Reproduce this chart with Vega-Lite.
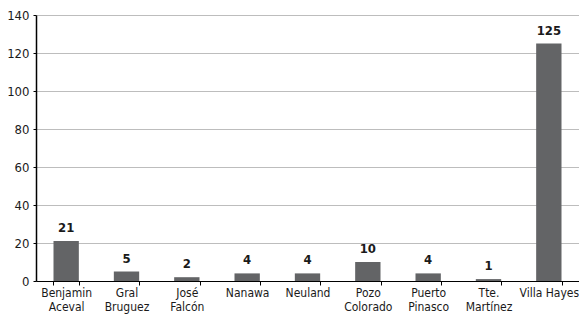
{
  "$schema": "https://vega.github.io/schema/vega-lite/v6.json",
  "autosize": "none",
  "width": 543,
  "height": 266,
  "padding": {"left": 36, "top": 15, "right": 0, "bottom": 41},
  "background": "white",
  "config": {
    "view": {"stroke": null},
    "font": "DejaVu Sans Condensed"
  },
  "data": {
    "values": [
      {"lugar": "Benjamin Aceval", "valor": 21},
      {"lugar": "Gral Bruguez", "valor": 5},
      {"lugar": "José Falcón", "valor": 2},
      {"lugar": "Nanawa", "valor": 4},
      {"lugar": "Neuland", "valor": 4},
      {"lugar": "Pozo Colorado", "valor": 10},
      {"lugar": "Puerto Pinasco", "valor": 4},
      {"lugar": "Tte. Martínez", "valor": 1},
      {"lugar": "Villa Hayes", "valor": 125}
    ]
  },
  "encoding": {
    "x": {
      "field": "lugar",
      "type": "nominal",
      "sort": null,
      "scale": {"paddingInner": 0.58, "paddingOuter": 0.29},
      "axis": {
        "title": null,
        "labelAngle": 0,
        "labelFont": "DejaVu Sans Condensed",
        "labelFontSize": 12,
        "labelColor": "#1a1a1a",
        "labelLineHeight": 14,
        "labelPadding": 2,
        "labelExpr": "!datum.value ? '' : (datum.value == 'Villa Hayes' ? datum.value : split(datum.value, ' '))",
        "domainColor": "#000",
        "domainWidth": 1,
        "tickColor": "#000",
        "tickSize": 4,
        "tickBand": "extent",
        "grid": false
      }
    },
    "y": {
      "field": "valor",
      "type": "quantitative",
      "scale": {"domain": [0, 140], "nice": false},
      "axis": {
        "title": null,
        "values": [0, 20, 40, 60, 80, 100, 120, 140],
        "labelFont": "DejaVu Sans Condensed",
        "labelFontSize": 13,
        "labelColor": "#1a1a1a",
        "labelPadding": 4,
        "tickSize": 3,
        "tickColor": "#000",
        "domainColor": "#000",
        "domainWidth": 1.5,
        "gridColor": "#bdbdbd",
        "gridWidth": 1
      }
    }
  },
  "layer": [
    {"mark": {"type": "bar", "color": "#636466"}},
    {
      "mark": {"type": "text", "dy": -13, "fontWeight": "bold", "fontSize": 13, "color": "#1a1a1a", "font": "DejaVu Sans Condensed"},
      "encoding": {"text": {"field": "valor", "type": "quantitative"}}
    }
  ]
}
